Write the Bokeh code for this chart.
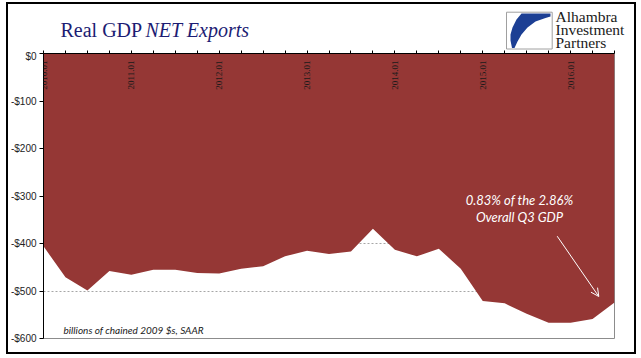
from math import pi
from bokeh.plotting import figure
from bokeh.layouts import column
from bokeh.core.properties import value
from bokeh.models import (LinearAxis, FixedTicker, Range1d, ColumnDataSource, LabelSet,
                          Label, Arrow, OpenHead, InlineStyleSheet)
from bokeh.embed import file_html
from bokeh.resources import INLINE

# ---- data (billions of chained 2009 $, SAAR), quarterly 2010Q1 .. 2016Q3 ----
quarter_index = list(range(27))
net_exports = [-406, -471, -499, -458,
               -466, -455, -455, -462,
               -463, -453, -448, -427,
               -415, -422, -417, -369,
               -413, -427, -411, -453,
               -521, -526, -548, -567,
               -567, -559, -524]
zero_base = [0] * len(net_exports)

year_positions = [0, 4, 8, 12, 16, 20, 24]
year_labels = ["2010.01", "2011.01", "2012.01", "2013.01", "2014.01", "2015.01", "2016.01"]
year_label_y = [0] * len(year_positions)

y_ticks = [0, -100, -200, -300, -400, -500, -600]
y_tick_labels = ["$0", "-$100", "-$200", "-$300", "-$400", "-$500", "-$600"]

FILL = "#953735"
NAVY = "#1c1c73"
W = 641
HEAD_H = 50
CHART_H = 358 - HEAD_H

# ---------------- header (title + logo) ----------------
head = figure(width=W, height=HEAD_H, x_range=Range1d(0, W), y_range=Range1d(HEAD_H, 0),
              output_backend="svg", toolbar_location=None,
              x_axis_location=None, y_axis_location=None,
              min_border=0, min_border_left=0, min_border_right=0,
              min_border_top=0, min_border_bottom=0)
head.frame_align = False
head.grid.visible = False
head.outline_line_color = None
head.background_fill_color = "white"
head.border_fill_color = "white"

head.text(x=[60], y=[29], text=["Real GDP"], text_font=value("Liberation Serif"),
          text_font_size="20px", text_color=NAVY, text_baseline="alphabetic", text_align="left")
head.text(x=[145], y=[29], text=["NET Exports"], text_font=value("Liberation Serif"),
          text_font_size="20px", text_color=NAVY, text_font_style="italic",
          text_baseline="alphabetic", text_align="left")

# logo
head.quad(left=[506], right=[551.7], top=[11.7], bottom=[48.5], fill_color="white",
          line_color="#a0a0a0", line_width=1)
head.patch(x=[521, 550, 550, 545, 535, 527, 521, 517, 514, 511.5, 510, 510, 512, 516],
           y=[13, 13, 16, 17.5, 21, 27, 34, 41, 47.5, 47.5, 40, 34, 27, 19],
           fill_color="#1c3f94", line_color=None)
head.text(x=[555, 555, 555], y=[15.5, 28.5, 41.5], text=["Alhambra", "Investment", "Partners"],
          text_font=value("Liberation Serif"), text_font_size="15.5px", text_color="#1a1a1a",
          text_baseline="alphabetic", text_align="left")

# ---------------- chart ----------------
p = figure(width=W, height=CHART_H, x_range=Range1d(0, 26), y_range=Range1d(-600, 0),
           output_backend="svg", toolbar_location=None,
           x_axis_location=None, y_axis_location="left",
           min_border_left=43, min_border_right=27, min_border_top=3, min_border_bottom=20)
p.frame_align = False
p.background_fill_color = "white"
p.border_fill_color = "white"
p.outline_line_color = "#8c8c8c"
p.outline_line_width = 1

p.xgrid.visible = False
p.ygrid.ticker = FixedTicker(ticks=y_ticks)
p.ygrid.grid_line_color = "#a6a6a6"
p.ygrid.grid_line_dash = "2 2"
p.ygrid.grid_line_width = 1

ya = p.yaxis[0]
ya.ticker = FixedTicker(ticks=y_ticks)
ya.major_label_overrides = dict(zip(y_ticks, y_tick_labels))
ya.major_label_text_font = "Liberation Sans"
ya.major_label_text_font_size = "10px"
ya.major_label_text_color = "#222222"
ya.major_label_standoff = 3
ya.major_tick_out = 4
ya.major_tick_in = 0
ya.minor_tick_line_color = None
ya.axis_line_color = "black"
ya.major_tick_line_color = "black"

top = LinearAxis(ticker=FixedTicker(ticks=quarter_index), major_tick_out=3, major_tick_in=0,
                 minor_tick_line_color=None, axis_line_color="black",
                 major_tick_line_color="black", major_label_text_font_size="0px",
                 major_label_text_alpha=0, major_label_standoff=0)
p.add_layout(top, "above")

src = ColumnDataSource(dict(x=quarter_index, base=zero_base, v=net_exports))
p.varea(x="x", y1="base", y2="v", source=src, fill_color=FILL, fill_alpha=1.0)

lab_src = ColumnDataSource(dict(x=year_positions, y=year_label_y, t=year_labels))
p.add_layout(LabelSet(x="x", y="y", text="t", source=lab_src, angle=pi / 2,
                      text_align="right", text_baseline="middle", y_offset=-7,
                      text_font="Liberation Sans", text_font_size="9px",
                      text_color="#1a1a1a"))

for txt, yc in [("0.83% of the 2.86%", 199 - HEAD_H), ("Overall Q3 GDP", 216 - HEAD_H)]:
    p.add_layout(Label(x=519, y=yc, x_units="canvas", y_units="canvas", text=txt,
                       text_font="Lato", text_font_size="13px", text_font_style="italic",
                       text_color="white", text_baseline="middle", text_align="center"))
p.add_layout(Arrow(x_start=556.7, y_start=235.7 - HEAD_H, x_end=598.3, y_end=296 - HEAD_H,
                   start_units="canvas", end_units="canvas",
                   line_color="white", line_width=1,
                   end=OpenHead(size=8, line_color="white", line_width=1)))

p.add_layout(Label(x=63, y=329 - HEAD_H, x_units="canvas", y_units="canvas",
                   text="billions of chained 2009 $s, SAAR",
                   text_font="Lato", text_font_size="10px", text_font_style="italic",
                   text_color="#1a1a1a", text_baseline="middle", text_align="left"))

border_css = InlineStyleSheet(css=(
    ":host { position: relative; }"
    ":host::after { content: ''; position: absolute; left: 6px; top: 2px; width: 630px;"
    " height: 352px; border: 2px solid black; box-sizing: border-box;"
    " pointer-events: none; z-index: 10; }"))
layout = column(head, p, stylesheets=[border_css], spacing=0)

open("out.html", "w").write(file_html(layout, INLINE))
